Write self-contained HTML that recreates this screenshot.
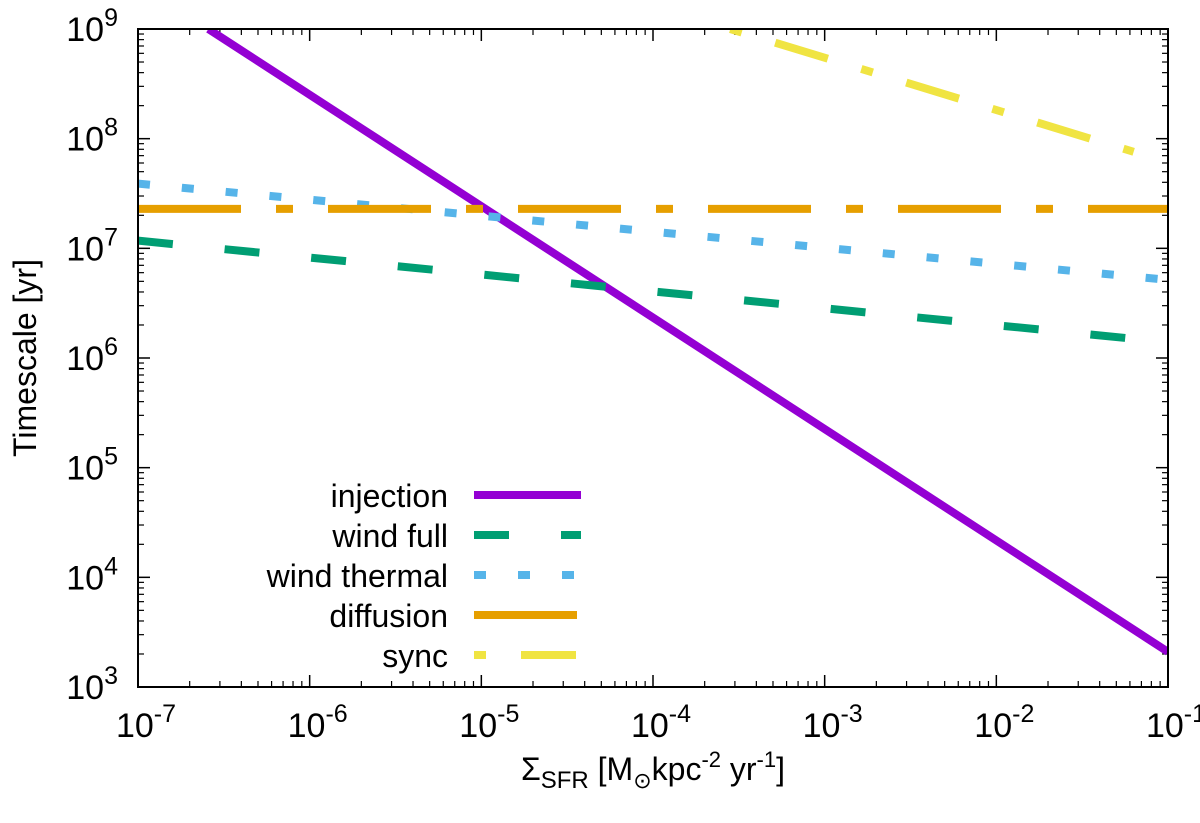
<!DOCTYPE html>
<html><head><meta charset="utf-8"><style>
body{margin:0;background:#fff;}
svg text{font-family:"Liberation Sans",sans-serif;fill:#000;}
</style></head><body>
<svg id="chart" width="1200" height="818" xmlns="http://www.w3.org/2000/svg">
<g id="grid"></g>
<g id="series"></g>
<g id="legend"></g>
<rect x="138" y="29" width="1030" height="658" fill="none" stroke="#000" stroke-width="2"/>
<text transform="translate(36,358) rotate(-90)" text-anchor="middle" font-size="32">Timescale [yr]</text>
<text x="653" y="780" text-anchor="middle" font-size="32">Σ<tspan font-size="24" dy="8">SFR</tspan><tspan dy="-8"> [M</tspan><tspan font-size="22" dy="8">⊙</tspan><tspan dy="-8">kpc</tspan><tspan font-size="22" dy="-13">-2</tspan><tspan dy="13"> yr</tspan><tspan font-size="22" dy="-13">-1</tspan><tspan dy="13">]</tspan></text>
</svg>
<script>
const xTicks=[-7,-6,-5,-4,-3,-2,-1];
const yTicks=[3,4,5,6,7,8,9];
const seriesNames=["injection","wind full","wind thermal","diffusion","sync"];
const injectionX=[-6.59,-1];
const injectionY=[9,3.32];
const windFullX=[-7,-1.1];
const windFullY=[7.07,6.16];
const windThermalX=[-7,-1.05];
const windThermalY=[7.59,6.72];
const diffusionX=[-7,-1];
const diffusionY=[7.36,7.36];
const syncX=[-3.55,-1.2];
const syncY=[9,7.88];
const L=138,R=1168,T=29,B=687;
const sx=v=>L+(v-(-7))/6*(R-L);
const sy=v=>B-(v-3)/6*(B-T);
const NS="http://www.w3.org/2000/svg";
const svg=document.getElementById('chart');
const grid=document.getElementById('grid');
function mk(tag,attrs,parent){const e=document.createElementNS(NS,tag);for(const k in attrs)e.setAttribute(k,attrs[k]);parent.appendChild(e);return e;}
xTicks.forEach((d,i)=>{
  const x=sx(d);
  const t=mk('line',{x1:x,x2:x,y1:B,y2:B-12,stroke:'#000','stroke-width':1.5},grid);
  
  
  const t2=mk('line',{x1:x,x2:x,y1:T,y2:T+12,stroke:'#000','stroke-width':1.5},grid);
  
  
  if(i<xTicks.length-1){for(let m=2;m<10;m++){const xm=sx(d+Math.log10(m));
    const a=mk('line',{x1:xm,x2:xm,y1:B,y2:B-6,stroke:'#000','stroke-width':1.2},grid);
    
    
    const b=mk('line',{x1:xm,x2:xm,y1:T,y2:T+6,stroke:'#000','stroke-width':1.2},grid);
    
    }}
  const lb=mk('text',{x:x+8,y:B+50,'text-anchor':'middle','font-size':34},grid);
  
  
  lb.innerHTML='10<tspan font-size="25" dy="-15">'+d+'</tspan>';
});
yTicks.forEach((d,i)=>{
  const y=sy(d);
  const t=mk('line',{x1:L,x2:L+12,y1:y,y2:y,stroke:'#000','stroke-width':1.5},grid);
  
  
  const t2=mk('line',{x1:R,x2:R-12,y1:y,y2:y,stroke:'#000','stroke-width':1.5},grid);
  
  
  if(i<yTicks.length-1){for(let m=2;m<10;m++){const ym=sy(d+Math.log10(m));
    const a=mk('line',{x1:L,x2:L+6,y1:ym,y2:ym,stroke:'#000','stroke-width':1.2},grid);
    
    
    const b=mk('line',{x1:R,x2:R-6,y1:ym,y2:ym,stroke:'#000','stroke-width':1.2},grid);
    
    }}
  const lb=mk('text',{x:118,y:y+12,'text-anchor':'end','font-size':34},grid);
  
  
  lb.innerHTML='10<tspan font-size="25" dy="-15">'+d+'</tspan>';
});
const styles=[
 {c:'#9400d3',d:'none'},
 {c:'#009e73',d:'35 52'},
 {c:'#56b4e9',d:'12 32'},
 {c:'#e69f00',d:'103 35 17 35'},
 {c:'#f0e442',d:'12 35 55 35'}];
const data=[[injectionX,injectionY],[windFullX,windFullY],[windThermalX,windThermalY],[diffusionX,diffusionY],[syncX,syncY]];
const sg=document.getElementById('series');
const clip=mk('clipPath',{id:'pc'},svg);mk('rect',{x:L,y:T,width:R-L,height:B-T},clip);
sg.setAttribute('clip-path','url(#pc)');
data.forEach((s,i)=>{
  const pts=s[0].map((x,j)=>sx(x)+','+sy(s[1][j])).join(' ');
  const p=mk('polyline',{points:pts,fill:'none',stroke:styles[i].c,'stroke-width':8,'stroke-dasharray':styles[i].d},sg);
  
  
});
const lg=document.getElementById('legend');
seriesNames.forEach((n,i)=>{
  const y=495+i*40;
  const t=mk('text',{x:448,y:y+12,'text-anchor':'end','font-size':32},lg);
  t.textContent=n;
  
  
  const l=mk('line',{x1:474,x2:581,y1:y,y2:y,stroke:styles[i].c,'stroke-width':8,'stroke-dasharray':styles[i].d},lg);
  
  
});
</script>
</body></html>
